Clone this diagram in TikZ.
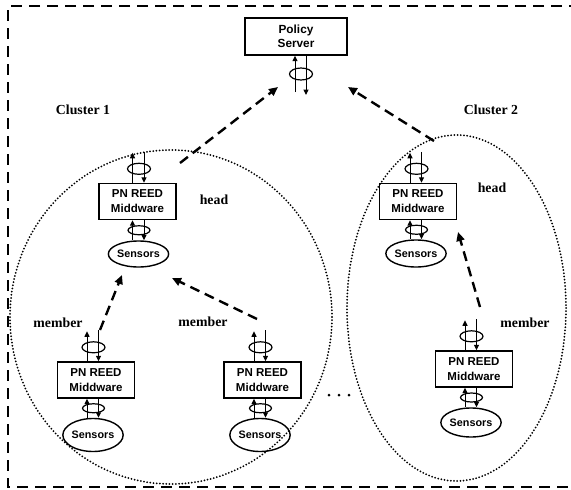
\documentclass[tikz,border=0pt]{standalone}
\usepackage{fontspec}
\setmainfont{Liberation Serif}
\setsansfont{Liberation Sans}
\usetikzlibrary{arrows.meta,calc,shapes.geometric}
\newcommand\mwlinks[2]{%
  \coordinate (#2u) at ($(#2.north)+(-6,0)$);
  \coordinate (#2d) at ($(#2.north)+(5.5,0)$);
  \coordinate (#2tu) at ($(#2u |- #1.north)+(0,-30)$);
  \coordinate (#2td) at ($(#2d |- #1.north)+(0,-31)$);
  \draw[link] (#2u) -- (#2u |- #1.south);
  \draw[link] (#2d |- #1.south) -- (#2d);
  \draw[link] (#2u |- #1.north) -- (#2tu);
  \draw[link] (#2td) -- (#2d |- #1.north);
  \draw[ring] ($(#2.north)!0.5!(#2.north |- #1.south)+(0.5,0)$) ellipse [x radius=11,y radius=4.5];
  \draw[ring] ($(#2.north |- #1.north)+(0.5,-14)$) ellipse [x radius=11.5,y radius=5.5];
}
\begin{document}
\begin{tikzpicture}[x=1pt,y=-1pt,
  mw/.style={draw,line width=1.4pt,rectangle,minimum width=77pt,minimum height=36pt,inner sep=0pt,align=center,font=\sffamily\bfseries\fontsize{11.5}{15}\selectfont},
  sens/.style={draw,line width=1.4pt,ellipse,inner sep=0pt,minimum width=56pt,font=\sffamily\bfseries\fontsize{10.8}{12}\selectfont},
  lbl/.style={font=\rmfamily\bfseries\fontsize{13.8}{16}\selectfont},
  link/.style={line width=1pt,-{Triangle[length=5.5pt,width=5pt]}},
  ring/.style={line width=1.2pt},
  dasharr/.style={line width=2.4pt,dash pattern=on 10pt off 6pt,-{Triangle[length=9pt,width=8pt]}},
  clus/.style={line width=2pt,dash pattern=on 0pt off 3.2pt,line cap=round},
  outer/.style={line width=2.5pt,dash pattern=on 11pt off 7pt},
]
\useasboundingbox (0,0) rectangle (571,490);
% outer border
\draw[outer] (580,6) -- (8,6) -- (8,487) -- (580,487);
% clusters
\draw[clus] (171,317) ellipse [x radius=161,y radius=167];
\draw[clus] (456.5,308) ellipse [x radius=109.5,y radius=173];
% policy server
\node[mw,minimum width=102pt,minimum height=37pt,font=\sffamily\bfseries\fontsize{11.8}{13.5}\selectfont] (ps) at (296,36.5) {Policy\\Server};
\coordinate (psu) at (295,92);
\coordinate (psd) at (306,95);
\draw[link] (psu) -- (psu |- ps.south);
\draw[link] (psd |- ps.south) -- (psd);
\draw[ring] (301,74) ellipse [x radius=11.5,y radius=6];
% units
\node[mw] (h1) at (137.5,201.5) {PN REED\\Middware};
\node[sens,minimum height=26pt] (s1) at (138.5,254) {Sensors};
\node[mw] (m1) at (96,380) {PN REED\\Middware};
\node[sens,minimum height=33pt] (sm1) at (93,435) {Sensors};
\node[mw] (m2) at (262.5,380) {PN REED\\Middware};
\node[sens,minimum height=33pt] (sm2) at (260,435) {Sensors};
\node[mw] (h2) at (418,201.5) {PN REED\\Middware};
\node[sens,minimum height=27pt] (s2) at (416,253.5) {Sensors};
\node[mw] (m3) at (474,369) {PN REED\\Middware};
\node[sens,minimum height=29pt] (sm3) at (471,422.5) {Sensors};
\mwlinks{h1}{s1}
\mwlinks{m1}{sm1}
\mwlinks{m2}{sm2}
\mwlinks{h2}{s2}
\mwlinks{m3}{sm3}
% labels
\node[lbl] (cl1) at (83,110) {Cluster 1};
\node[lbl] (cl2) at (491,110) {Cluster 2};
\node[lbl] (hd1) at (214,200) {head};
\node[lbl] (hd2) at (492,188) {head};
\node[lbl] (mb1) at (58,323) {member};
\node[lbl] (mb2) at (203,322) {member};
\node[lbl] (mb3) at (525,323) {member};
% dashed arrows
\coordinate (a1s) at (180,163); \coordinate (a1e) at (278,87);
\coordinate (a2s) at (434,141); \coordinate (a2e) at (348,87);
\coordinate (a3s) at (100,330); \coordinate (a3e) at (122,275);
\coordinate (a4s) at (257,319); \coordinate (a4e) at (172,278);
\coordinate (a5s) at (480,307); \coordinate (a5e) at (458,232);
\draw[dasharr] (a1s) -- (a1e);
\draw[dasharr] (a2s) -- (a2e);
\draw[dasharr] (a3s) -- (a3e);
\draw[dasharr] (a4s) -- (a4e);
\draw[dasharr] (a5s) -- (a5e);
% dots
\fill (329,395) circle (1.5);
\fill (339,395) circle (1.5);
\fill (349,395) circle (1.5);
\end{tikzpicture}
\end{document}
